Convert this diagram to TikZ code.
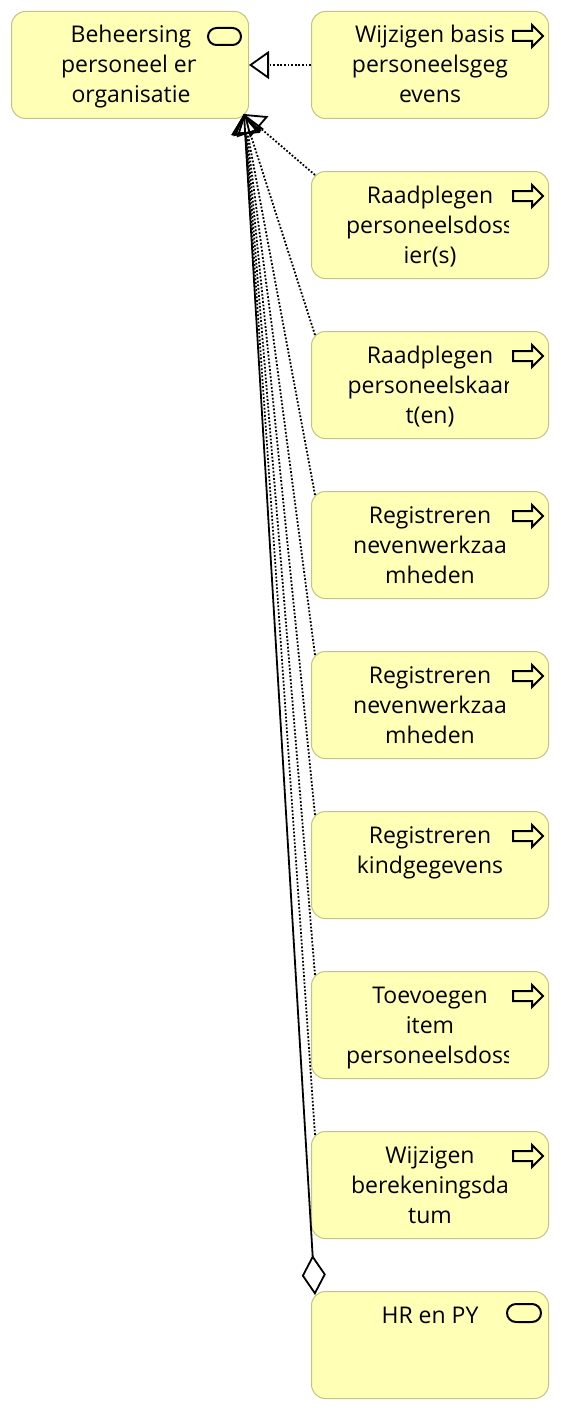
\documentclass[tikz,border=0pt]{standalone}
\usepackage{fontspec}
\setmainfont{Open Sans}
\usetikzlibrary{arrows.meta,calc}
\definecolor{archfill}{RGB}{255,255,181}
\definecolor{archline}{RGB}{196,196,128}
\tikzset{
  abox/.style={draw=archline, fill=archfill, line width=1pt, rounded corners=14pt,
    minimum width=237pt, minimum height=107pt, anchor=north west, inner sep=0pt},
  txt/.style={anchor=base, inner sep=0pt, font=\fontsize{23}{30}\selectfont, text=black},
  icon/.style={draw=black, line width=2pt, fill=none, line join=miter},
  real/.style={draw=black, line width=1.8pt, dash pattern=on 1.8pt off 1.8pt,
    -{Triangle[open, length=20pt, width=28pt, line width=1.8pt]}},
  aggr/.style={draw=black, line width=1.8pt,
    {Diamond[open, length=40pt, width=24pt, line width=1.8pt]}-},
}
% #1 name, #2 top, #3-#5 lines
\newcommand{\mkproc}[5]{%
  \node[abox] (#1) at (311,#2) {};
  \begin{scope}
    \clip (311,#2) rectangle (508,{#2+107});
    \node[txt] (#1l1) at (430,{#2+32}) {#3};
    \node[txt] (#1l2) at (430,{#2+62}) {#4};
    \node[txt] (#1l3) at (430,{#2+92}) {#5};
  \end{scope}
  \draw[icon] (513,{#2+20}) -- (532,{#2+20}) -- (532,{#2+14}) -- (543,{#2+25})
     -- (532,{#2+36}) -- (532,{#2+30}) -- (513,{#2+30}) -- cycle;
  \coordinate (#1c) at (315,{#2+4});
}
\begin{document}
\begin{tikzpicture}[x=1pt,y=-1pt]
\useasboundingbox (0,0) rectangle (560,1410);
% main service
\node[abox] (main) at (11,11) {};
\begin{scope}
  \clip (11,11) rectangle (195,118);
  \node[txt] (mainl1) at (131,43) {Beheersing};
  \node[txt] (mainl2) at (131,73) {personeel en};
  \node[txt] (mainl3) at (131,103) {organisatie};
\end{scope}
\draw[icon, rounded corners=8.5pt] (208,28) rectangle (241,45);
\coordinate (tgt) at (244,114);

\mkproc{pa}{11}{Wijzigen basis}{personeelsgeg}{evens}
\mkproc{pb}{171}{Raadplegen}{personeelsdoss}{ier(s)}
\mkproc{pc}{331}{Raadplegen}{personeelskaar}{t(en)}
\mkproc{pd}{491}{Registreren}{nevenwerkzaa}{mheden}
\mkproc{pe}{651}{Registreren}{nevenwerkzaa}{mheden}
\mkproc{pf}{811}{Registreren}{kindgegevens}{}
\mkproc{pg}{971}{Toevoegen}{item}{personeelsdoss}
\mkproc{ph}{1131}{Wijzigen}{berekeningsda}{tum}

% HR en PY
\node[abox] (hr) at (311,1291) {};
\node[txt] (hrl1) at (430,1323) {HR en PY};
\draw[icon, rounded corners=9pt] (507,1304) rectangle (541,1322);
\coordinate (hrc) at (315,1295);

% connectors
\draw[real] (pa.west) -- (main.east);
\foreach \n in {pb,pc,pd,pe,pf,pg,ph}{\draw[real] (\n c) -- (tgt);}
\draw[aggr] (hrc) -- (tgt);
\end{tikzpicture}
\end{document}
